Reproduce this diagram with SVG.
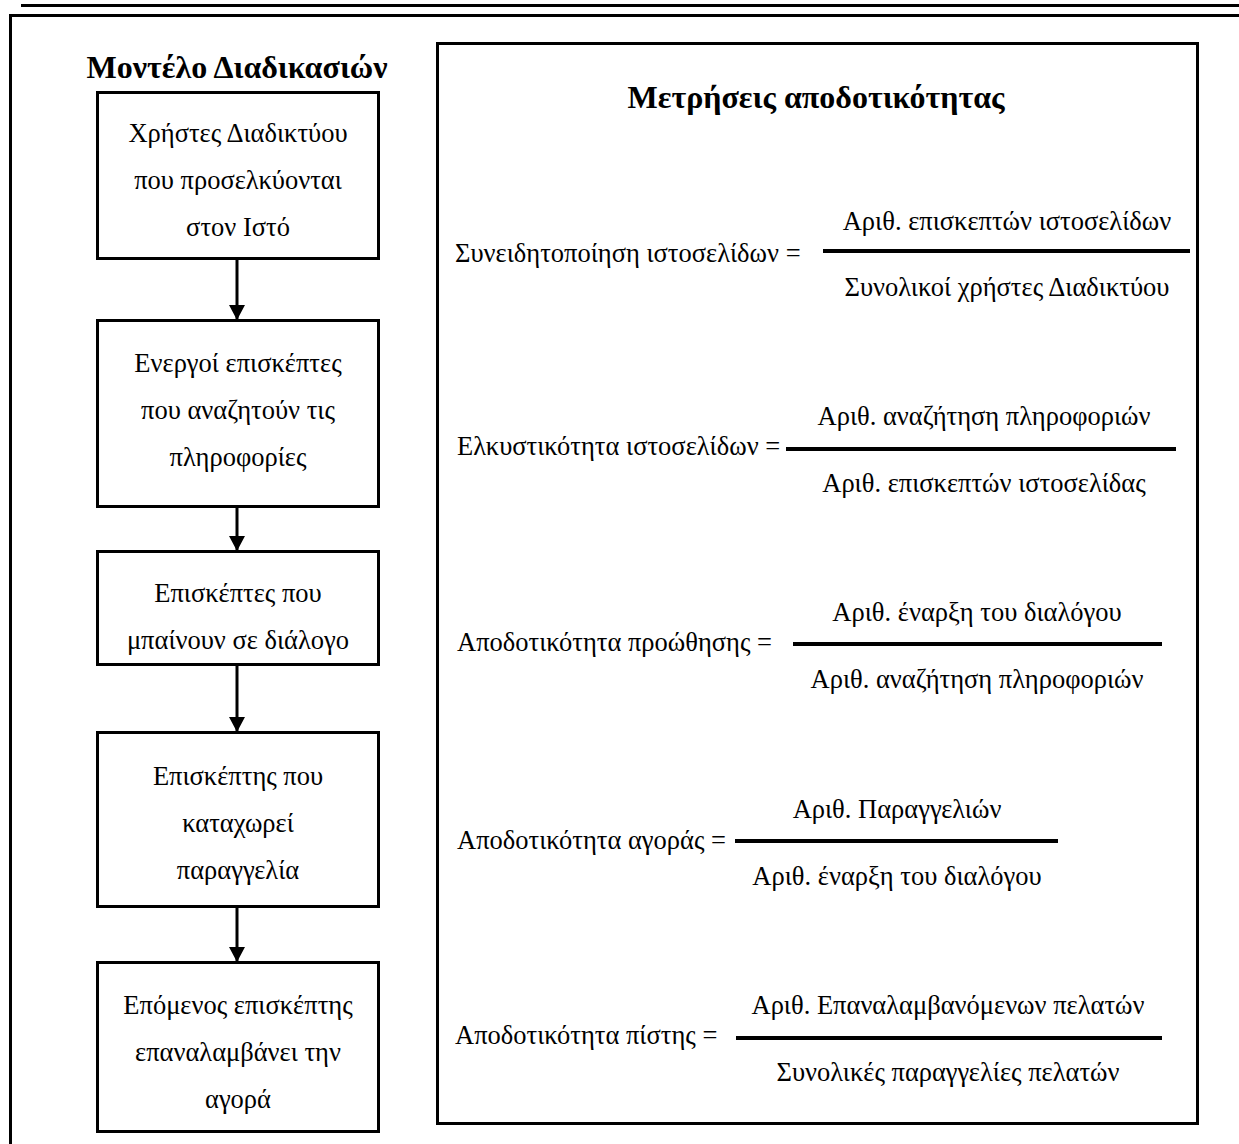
<svg xmlns="http://www.w3.org/2000/svg" width="1239" height="1144" viewBox="0 0 1239 1144">
  <style>
    .frame { fill: none; stroke: #000; stroke-width: 3; }
    .box { fill: #fff; stroke: #000; stroke-width: 3; }
    .txt { font-family: "Liberation Serif", "Times New Roman", serif; font-size: 26.5px; fill: #000; }
    .mid { text-anchor: middle; }
    .title { font-family: "Liberation Serif", "Times New Roman", serif; font-size: 32px; font-weight: bold; fill: #000; text-anchor: middle; }
    .bar { stroke: #000; stroke-width: 4; }
    .conn { stroke: #000; stroke-width: 3; fill: none; }
  </style>
  <defs>
    <marker id="arrow" markerUnits="userSpaceOnUse" markerWidth="16" markerHeight="16" refX="15" refY="8" orient="auto">
      <path d="M0,0 L15,8 L0,16 Z" fill="#000"/>
    </marker>
  </defs>

  <rect width="1239" height="1144" fill="#fff"/>

  <!-- page frame -->
  <g id="page-frame">
    <line class="frame" x1="21" y1="5.5" x2="1239" y2="5.5"/>
    <polyline class="frame" points="1239,15.5 10.5,15.5 10.5,1144"/>
  </g>

  <!-- process model column -->
  <text class="title" x="237" y="78">Μοντέλο Διαδικασιών</text>

  <g id="step1">
    <rect class="box" x="97.5" y="92.5" width="281" height="166"/>
    <text class="txt mid" x="238" y="142">Χρήστες Διαδικτύου</text>
    <text class="txt mid" x="238" y="189">που προσελκύονται</text>
    <text class="txt mid" x="238" y="236">στον Ιστό</text>
  </g>
  <g id="step2">
    <rect class="box" x="97.5" y="320.5" width="281" height="186"/>
    <text class="txt mid" x="238" y="372">Ενεργοί επισκέπτες</text>
    <text class="txt mid" x="238" y="419">που αναζητούν τις</text>
    <text class="txt mid" x="238" y="466">πληροφορίες</text>
  </g>
  <g id="step3">
    <rect class="box" x="97.5" y="551.5" width="281" height="113"/>
    <text class="txt mid" x="238" y="602">Επισκέπτες που</text>
    <text class="txt mid" x="238" y="649">μπαίνουν σε διάλογο</text>
  </g>
  <g id="step4">
    <rect class="box" x="97.5" y="732.5" width="281" height="174"/>
    <text class="txt mid" x="238" y="785">Επισκέπτης που</text>
    <text class="txt mid" x="238" y="832">καταχωρεί</text>
    <text class="txt mid" x="238" y="879">παραγγελία</text>
  </g>
  <g id="step5">
    <rect class="box" x="97.5" y="962.5" width="281" height="169"/>
    <text class="txt mid" x="238" y="1014">Επόμενος επισκέπτης</text>
    <text class="txt mid" x="238" y="1061">επαναλαμβάνει την</text>
    <text class="txt mid" x="238" y="1108">αγορά</text>
  </g>

  <!-- flow connectors -->
  <g id="connectors">
    <line class="conn" x1="237" y1="259" x2="237" y2="320" marker-end="url(#arrow)"/>
    <line class="conn" x1="237" y1="507" x2="237" y2="551" marker-end="url(#arrow)"/>
    <line class="conn" x1="237" y1="665" x2="237" y2="732" marker-end="url(#arrow)"/>
    <line class="conn" x1="237" y1="907" x2="237" y2="962" marker-end="url(#arrow)"/>
  </g>

  <!-- efficiency metrics panel -->
  <g id="metrics">
    <rect class="box" x="437.5" y="43.5" width="760" height="1080"/>
    <text class="title" x="816" y="108">Μετρήσεις αποδοτικότητας</text>

    <g id="metric-awareness">
      <text class="txt" x="455" y="262">Συνειδητοποίηση ιστοσελίδων =</text>
      <line class="bar" x1="823" y1="251" x2="1190" y2="251"/>
      <text class="txt mid" x="1007" y="230">Αριθ. επισκεπτών ιστοσελίδων</text>
      <text class="txt mid" x="1007" y="296">Συνολικοί χρήστες Διαδικτύου</text>
    </g>
    <g id="metric-attraction">
      <text class="txt" x="457" y="455">Ελκυστικότητα ιστοσελίδων =</text>
      <line class="bar" x1="786" y1="449" x2="1176" y2="449"/>
      <text class="txt mid" x="984" y="425">Αριθ. αναζήτηση πληροφοριών</text>
      <text class="txt mid" x="984" y="492">Αριθ. επισκεπτών ιστοσελίδας</text>
    </g>
    <g id="metric-promotion">
      <text class="txt" x="457" y="651">Αποδοτικότητα προώθησης =</text>
      <line class="bar" x1="793" y1="644" x2="1162" y2="644"/>
      <text class="txt mid" x="977" y="621">Αριθ. έναρξη του διαλόγου</text>
      <text class="txt mid" x="977" y="688">Αριθ. αναζήτηση πληροφοριών</text>
    </g>
    <g id="metric-purchase">
      <text class="txt" x="457" y="849">Αποδοτικότητα αγοράς =</text>
      <line class="bar" x1="735" y1="841" x2="1058" y2="841"/>
      <text class="txt mid" x="897" y="818">Αριθ. Παραγγελιών</text>
      <text class="txt mid" x="897" y="885">Αριθ. έναρξη του διαλόγου</text>
    </g>
    <g id="metric-loyalty">
      <text class="txt" x="455" y="1044">Αποδοτικότητα πίστης =</text>
      <line class="bar" x1="736" y1="1038" x2="1162" y2="1038"/>
      <text class="txt mid" x="948" y="1014">Αριθ. Επαναλαμβανόμενων πελατών</text>
      <text class="txt mid" x="948" y="1081">Συνολικές παραγγελίες πελατών</text>
    </g>
  </g>
</svg>
